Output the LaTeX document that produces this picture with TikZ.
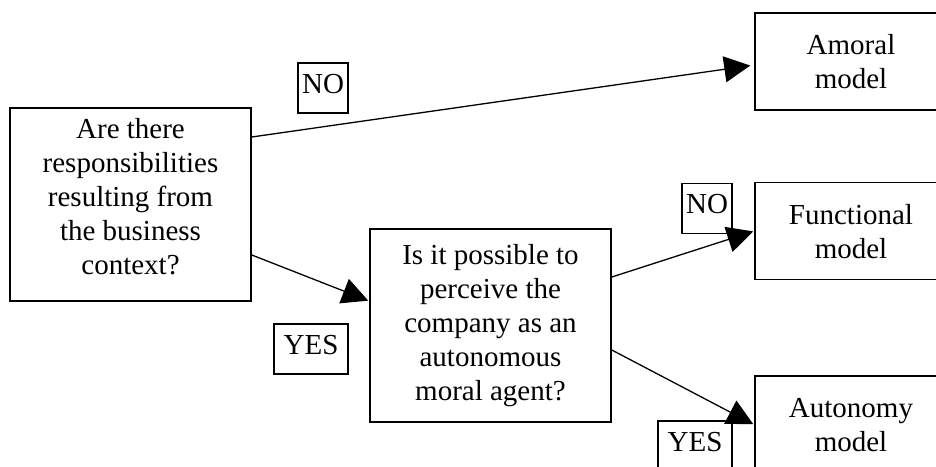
\documentclass[tikz,border=0pt]{standalone}
\usepackage{fontspec}
\setmainfont{Liberation Serif}
\usetikzlibrary{positioning, arrows.meta}

\tikzset{
  ask/.style={draw, line width=1.6pt, minimum width=241pt, minimum height=193pt, align=center, inner sep=0pt},
  model/.style={draw, line width=1.6pt, minimum width=192pt, minimum height=97pt, align=center, inner sep=0pt},
  tag/.style={draw, line width=1.4pt, minimum height=50pt, inner sep=0pt, text height=19pt, text depth=9pt},
  flow/.style={line width=1.3pt, -{Triangle[length=26pt,width=26pt]}}
}

\begin{document}
\begin{tikzpicture}[x=1pt, y=-1pt, shorten >=1pt,
    every node/.style={font=\fontsize{29pt}{34pt}\selectfont}]
        \useasboundingbox (0,0) rectangle (936,466);
        \clip (0,0) rectangle (936,466);

        \node[ask, text depth=17pt] (q_1) at (130.5,204.5) {Are there\\responsibilities\\resulting from\\the business\\context?};
        \node[ask] (q_2) at (490.5,325.5) {Is it possible to\\perceive the\\company as an\\autonomous\\moral agent?};
        \node[model] (amoral) at (851,61.5) {Amoral\\model};
        \node[model] (functional) [below=71pt of amoral] {Functional\\model};
        \node[model] (autonomy) [below=95pt of functional] {Autonomy\\model};

        \node[tag, minimum width=50pt] (no_1) at (323,88) {NO};
        \node[tag, minimum width=50pt] (no_2) at (707,208.5) {NO};
        \node[tag, minimum width=74pt] (yes_1) at (311,349) {YES};
        \node[tag, minimum width=74pt] (yes_2) at (695,446) {YES};

        \path[flow]
        ([yshift=67.5pt]q_1.east) edge [shorten >=4pt] ([yshift=-3.5pt]amoral.west)
        ([yshift=-50.5pt]q_1.east) edge ([yshift=24.5pt]q_2.west)
        ([yshift=48.5pt]q_2.east) edge (functional.west)
        ([yshift=-24.5pt]q_2.east) edge (autonomy.west)
        ;

    \end{tikzpicture}
\end{document}
